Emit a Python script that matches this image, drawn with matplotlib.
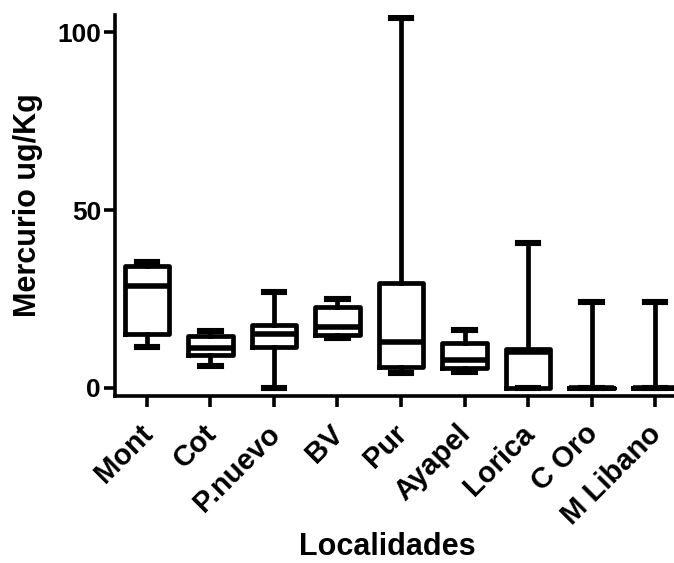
import matplotlib
matplotlib.use("Agg")
import matplotlib.pyplot as plt
import matplotlib.transforms as mtransforms

plt.rcParams['font.family'] = ['Liberation Sans', 'DejaVu Sans']
plt.rcParams['font.weight'] = 'bold'

# ---- data (box plot summary per site) ----
localidades = ["Mont", "Cot", "P.nuevo", "BV", "Pur", "Ayapel", "Lorica", "C Oro", "M Libano"]
whis_lo = [11.5, 6.2, 0.0, 14.0, 4.2, 4.5, 0.0, 0.0, 0.0]
q1      = [15.2, 9.3, 11.5, 14.9, 6.0, 5.6, 0.0, 0.0, 0.0]
median  = [28.7, 11.2, 15.2, 17.2, 13.0, 7.9, 10.2, 0.0, 0.0]
q3      = [34.3, 14.6, 17.7, 22.7, 29.5, 12.6, 10.9, 0.0, 0.0]
whis_hi = [35.4, 16.0, 27.0, 25.0, 104.0, 16.3, 40.7, 24.2, 24.2]

stats = []
for i, name in enumerate(localidades):
    stats.append({"label": name, "whislo": whis_lo[i], "q1": q1[i], "med": median[i],
                  "q3": q3[i], "whishi": whis_hi[i], "fliers": []})

fig = plt.figure(figsize=(6.74, 5.63), dpi=100)
ax = fig.add_axes([115 / 674, (563 - 396) / 563, 572 / 674, 381 / 563])

lw = 3.4
ax.bxp(stats, positions=range(len(stats)), widths=0.7, capwidths=0.32,
       showfliers=False, manage_ticks=False,
       boxprops=dict(color="black", linewidth=lw, solid_joinstyle="round"),
       medianprops=dict(color="black", linewidth=lw + 0.6),
       whiskerprops=dict(color="black", linewidth=lw),
       capprops=dict(color="black", linewidth=lw + 1))

ax.set_xlim(-0.5, 8.5)
ax.set_ylim(-2.25, 104.8)
ax.set_yticks([0, 50, 100])
ax.set_xticks(range(len(localidades)))

ax.spines["top"].set_visible(False)
ax.spines["right"].set_visible(False)
ax.spines["left"].set_linewidth(2.6)
ax.spines["bottom"].set_linewidth(2.6)
ax.tick_params(axis="both", length=8, width=2.6, color="black")
ax.tick_params(axis="x", pad=9)
ax.tick_params(axis="y", pad=2)

ax.set_xticklabels(localidades, rotation=45, ha="right", rotation_mode="anchor",
                   fontsize=21, fontweight="bold")
# nudge the rotated labels to the left (after tick_params, which resets transforms)
shift = mtransforms.ScaledTranslation(-8 / 100, 0, fig.dpi_scale_trans)
for lab in ax.get_xticklabels():
    lab.set_transform(lab.get_transform() + shift)
for lab in ax.get_yticklabels():
    lab.set_fontsize(19)
    lab.set_fontweight("bold")

ax.set_ylabel("Mercurio ug/Kg", fontsize=22, fontweight="bold", labelpad=10)
fig.text(387 / 674, 1 - 547 / 563, "Localidades", fontsize=22, fontweight="bold",
         ha="center", va="center")

fig.savefig("out.png", dpi=100)
